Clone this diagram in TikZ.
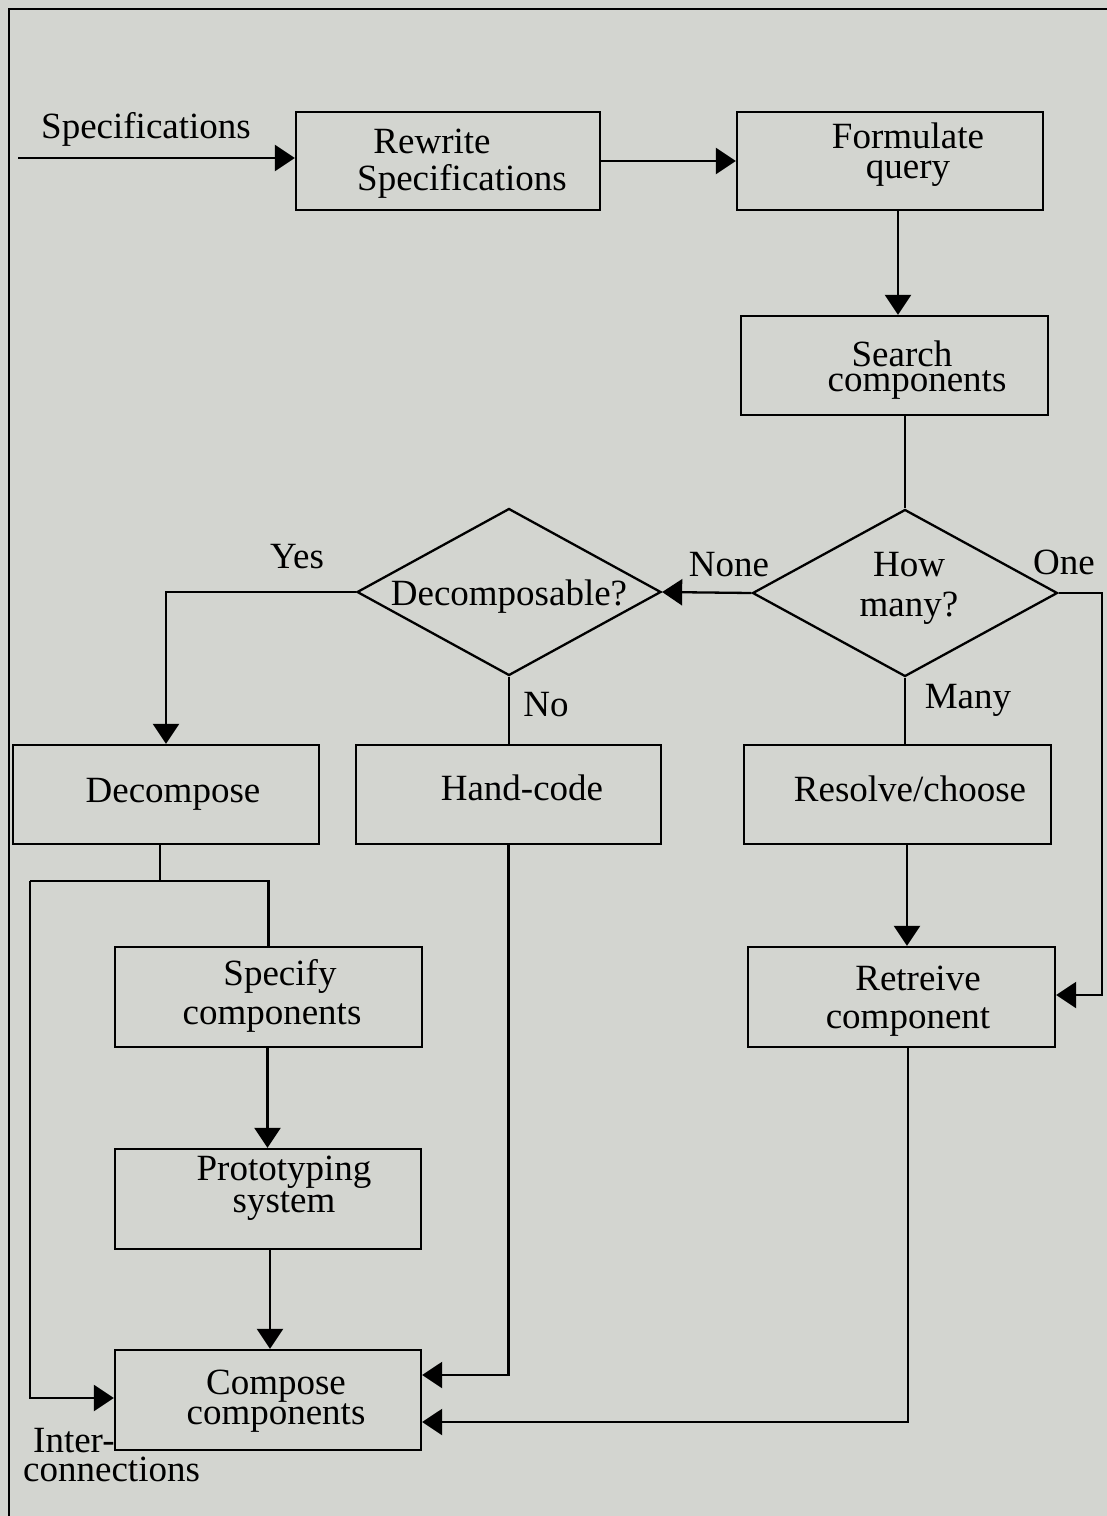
\documentclass[tikz,border=0pt]{standalone}
\usepackage{fontspec}
\setmainfont{Liberation Serif}
\usetikzlibrary{arrows.meta,shapes.geometric}
\definecolor{paper}{RGB}{211,213,208}
\begin{document}
\begin{tikzpicture}[x=1pt,y=-1pt,
  box/.style={draw,line width=2.3pt,inner sep=0pt,minimum width=306pt,minimum height=99pt},
  dia/.style={draw,line width=2.3pt,diamond,inner sep=0pt,minimum width=305pt,minimum height=167pt},
  txt/.style={anchor=base,inner sep=0pt,font=\fontsize{37}{37}\selectfont},
  two/.style={txt,align=center,font=\fontsize{37}{#1}\selectfont},
  line/.style={line width=2.3pt},
  arr/.style={line width=2.3pt,-{Triangle[length=20pt,width=26pt]}}]
% page and frame
\fill[paper] (0,0) rectangle (1107,1516);
\useasboundingbox (0,0) rectangle (1107,1516);
\draw[line width=2.4pt] (9,1516) -- (9,9) -- (1107,9);

% process boxes
\node[box,minimum width=304pt,minimum height=98pt] (rw) at (448,161) {};
\node[box,minimum height=98pt] (fq) at (890,161) {};
\node[box,minimum width=307pt] (sc) at (894.5,365.5) {};
\node[dia] (hm) at (905,593) {};
\node[dia,minimum width=304pt] (dc) at (509,592) {};
\node[box] (dec) at (166,794.5) {};
\node[box,minimum width=305pt] (hc) at (508.5,794.5) {};
\node[box,minimum width=307pt] (rc) at (897.5,794.5) {};
\node[box,minimum width=307pt,minimum height=100pt] (sp) at (268.5,997) {};
\node[box,minimum width=307pt,minimum height=100pt] (rt) at (901.5,997) {};
\node[box,minimum height=100pt] (ps) at (268,1199) {};
\node[box,minimum height=100pt] (cc) at (268,1400) {};

% box texts (placed by the baseline of their last line)
\node[two=37pt] (t1) at (462,190) {Rewrite\hspace*{60pt}\\Specifications};
\node[two=30pt] (t2) at (908,178) {Formulate\\query};
\node[two=25pt] (t3) at (917,391) {Search\hspace*{30pt}\\components};
\node[two=40pt] (t4) at (909,616) {How\\many?};
\node[txt] (t5) at (509,605) {Decomposable?};
\node[txt] (t6) at (173,802) {Decompose};
\node[txt] (t7) at (522,800) {Hand-code};
\node[txt] (t8) at (910,801) {Resolve/choose};
\node[two=39pt] (t9) at (272,1024) {\hspace*{16pt}Specify\\components};
\node[two=38pt] (t10) at (908,1028) {\hspace*{20pt}Retreive\\component};
\node[two=32pt] (t11) at (284,1212) {Prototyping\\system};
\node[two=28pt] (t12) at (276,1424) {Compose\\components};

% free labels
\node[txt] (lspec) at (146,138) {Specifications};
\node[txt] (lyes) at (297,568) {Yes};
\node[txt] (lnone) at (729,576) {None};
\node[txt] (lone) at (1064,574) {One};
\node[txt] (lmany) at (968,708) {Many};
\node[txt] (lno) at (546,716) {No};
\node[two=29pt,align=left,anchor=base west] (linter) at (23,1481) {\hspace*{10pt}Inter-\\connections};

% junction points
\coordinate (in) at (18,158);
\coordinate (oneturn) at (1102,593);
\coordinate (jl) at (30,881);
\coordinate (jr) at (268.5,881);

% connectors
\draw[arr] (in) -- (in -| rw.west);
\draw[arr] (rw.east) -- (fq.west);
\draw[arr] ([xshift=8pt]fq.south) -- ([xshift=8pt]fq.south |- sc.north);
\draw[line] ([xshift=10.5pt]sc.south) -- (hm.north);
\draw[arr] (hm.west) -- (dc.east);
\draw[arr] (hm.east) -- (oneturn) |- ([yshift=2pt]rt.east);
\draw[line] (hm.south) -- (hm.south |- rc.north);
\draw[arr] ([xshift=9.5pt]rc.south) -- ([xshift=9.5pt]rc.south |- rt.north);
\draw[arr] ([xshift=6.5pt]rt.south) |- ([yshift=-22pt]cc.east);
\draw[arr] (dc.west) -| (dec.north);
\draw[line] (dc.south) -- (dc.south |- hc.north);
\draw[arr] (hc.south) |- ([yshift=25pt]cc.east);
\draw[line] ([xshift=-6pt]dec.south) -- ([xshift=-6pt]dec.south |- jl);
\draw[line] (jl) -- (jr) -- (sp.north);
\draw[arr] (jl) |- ([yshift=2pt]cc.west);
\draw[arr] ([xshift=-1pt]sp.south) -- ([xshift=-1pt]sp.south |- ps.north);
\draw[arr] ([xshift=2pt]ps.south) -- ([xshift=2pt]cc.north);
\end{tikzpicture}
\end{document}
